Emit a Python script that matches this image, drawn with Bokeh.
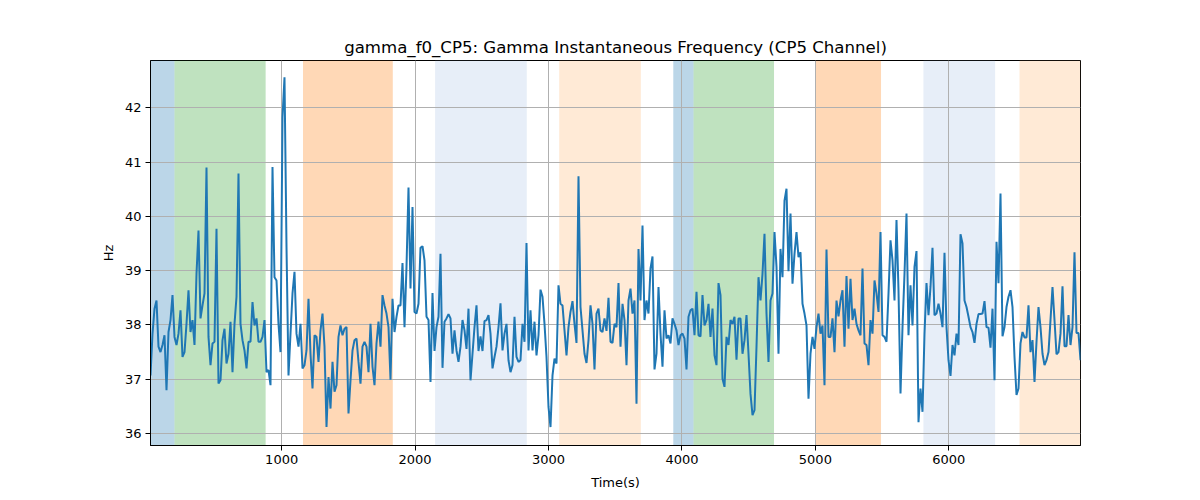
import numpy as np
from bokeh.plotting import figure
from bokeh.models import Range1d, BoxAnnotation, FixedTicker
from bokeh.embed import file_html
from bokeh.resources import INLINE

# instantaneous frequency, segment by segment
hz_a = [37.07, 37.84, 38.30, 38.45, 37.60, 37.50, 37.63, 37.81, 36.80, 37.87,
        38.09, 38.55, 37.78, 37.63, 37.84, 38.27, 37.41, 37.50, 38.02, 38.64,
        37.87, 38.09, 37.63, 38.94, 39.74, 38.12, 38.36, 38.58, 40.90, 37.78,
        37.26, 37.66, 37.69, 39.77, 36.92, 36.98, 37.72, 37.93, 37.29, 37.47,
        38.06, 37.13, 38.02, 38.52, 40.79, 38.02, 37.72, 37.53, 37.20, 37.69,
        37.69, 38.42, 37.99, 38.12, 37.69, 37.69, 37.78, 38.09]
hz_b = [37.13, 37.17, 36.89, 40.91, 38.88, 38.82, 38.02, 37.50, 41.83, 42.56,
        39.44, 37.07, 37.84, 38.58, 38.98, 37.84, 37.60, 38.02, 37.20, 37.26,
        37.53, 38.48, 37.47, 36.83, 37.81, 37.78, 37.32, 37.90, 38.21, 37.60,
        36.12, 37.04, 36.46, 37.32, 36.77, 36.89, 37.78, 37.99, 37.81, 37.93,
        37.96, 36.37, 36.98, 37.53, 37.72, 37.75, 37.32, 36.92, 37.60, 37.69,
        37.60, 37.13, 38.02, 37.23, 36.89, 37.66, 38.06, 37.60]
hz_c = [38.55, 38.36, 38.21, 37.96, 36.99, 38.48, 37.87, 38.15, 38.36, 38.36,
        39.14, 37.96, 39.07, 40.53, 38.67, 40.17, 38.24, 38.21, 38.39, 39.42,
        39.45, 39.19, 38.15, 38.09, 36.95, 38.59, 37.52, 37.96, 38.15, 39.31,
        37.21, 38.06, 38.12, 38.20, 38.12, 37.47, 37.90, 37.53, 37.32, 37.60,
        38.09, 37.90, 37.56, 38.30, 36.98, 37.47, 37.96, 38.36, 37.52, 37.79,
        37.52, 38.07, 38.09, 38.18, 37.84, 37.20, 37.41, 37.60, 37.96]
hz_d = [38.40, 37.53, 37.84, 38.02, 37.35, 37.13, 37.26, 38.15, 37.41, 37.32,
        37.35, 38.02, 37.69, 39.51, 37.53, 38.27, 37.53, 38.06, 37.44, 37.81,
        38.65, 38.52, 38.02, 37.41, 36.49, 36.12, 37.07, 37.38, 37.29, 38.73,
        38.39, 38.36, 37.90, 37.44, 37.96, 38.24, 38.44, 38.02, 37.67, 40.74,
        38.33, 37.90, 37.47, 37.30, 37.72, 38.36, 38.02, 37.18, 38.21, 38.30,
        37.90, 37.87, 38.12, 37.89, 38.50, 37.69, 37.67, 38.02]
hz_e = [37.96, 38.77, 37.60, 38.39, 38.09, 37.26, 38.45, 38.67, 38.21, 38.45,
        36.55, 39.40, 38.45, 39.83, 38.09, 38.45, 38.21, 39.04, 39.26, 37.18,
        37.47, 38.70, 37.84, 37.23, 38.27, 37.75, 37.81, 37.66, 38.12, 38.02,
        37.90, 37.63, 37.81, 37.84, 37.75, 37.18, 38.15, 38.27, 38.30, 37.81,
        38.61, 37.81, 37.79, 38.55, 37.99, 38.09, 38.39, 37.78, 38.30, 37.44,
        37.26, 38.77, 38.55, 37.01, 36.86, 37.78, 37.63, 38.09, 38.02]
hz_f = [38.15, 37.36, 38.12, 38.12, 37.47, 37.72, 38.18, 37.47, 36.73, 36.34,
        36.43, 37.60, 38.88, 38.45, 38.94, 39.68, 38.21, 37.32, 38.45, 38.58,
        39.71, 39.07, 37.47, 39.40, 38.88, 40.29, 40.51, 38.99, 40.05, 38.76,
        39.31, 39.71, 39.25, 39.34, 38.39, 38.21, 37.99, 36.64, 37.47, 37.78,
        37.56, 37.96, 38.21, 37.84, 37.99, 36.89, 39.39, 37.78, 37.78, 38.12,
        37.50, 38.45, 38.16, 38.45, 38.64, 37.60, 38.90, 37.93]
hz_g = [38.85, 38.09, 38.30, 38.02, 37.90, 37.81, 39.04, 37.66, 37.63, 37.26,
        38.09, 37.84, 38.82, 38.58, 38.24, 39.71, 37.81, 37.78, 37.69, 38.58,
        39.56, 39.19, 38.45, 39.93, 38.64, 36.74, 37.96, 38.94, 40.05, 37.81,
        38.73, 37.99, 39.07, 39.36, 36.21, 36.83, 36.40, 37.84, 38.77, 38.18,
        38.70, 39.42, 38.18, 38.21, 38.39, 38.21, 37.96, 39.33, 37.96, 37.35,
        37.06, 37.63, 37.44, 37.84, 37.63, 39.67, 39.50, 38.45, 38.33]
hz_h = [38.15, 37.96, 37.87, 37.67, 38.02, 38.20, 38.20, 38.21, 38.44, 37.96,
        37.95, 37.58, 38.30, 36.98, 39.53, 38.77, 40.42, 37.79, 37.96, 38.33,
        38.52, 38.64, 38.33, 37.41, 36.71, 36.83, 37.66, 37.87, 37.77, 37.77,
        38.36, 37.50, 37.72, 36.95, 37.69, 38.33, 37.96, 37.47, 37.26, 37.35,
        37.50, 38.09, 38.70, 38.09, 37.46, 37.50, 37.84, 38.71, 37.61, 37.61,
        38.18, 37.63, 37.96, 39.34, 37.85, 37.85, 37.35]

hz = hz_a + hz_b + hz_c + hz_d + hz_e + hz_f + hz_g + hz_h
t_start, t_end = 17, 6987
t = np.linspace(t_start, t_end, len(hz))

# shaded segments
span_start = [17, 197, 1160, 2150, 3080, 3935, 4087, 5000, 5810, 6530]
span_end = [197, 880, 1833, 2837, 3692, 4087, 4690, 5492, 6347, 6987]
span_color = ["#1f77b4", "#2ca02c", "#ff7f0e", "#aec7e8", "#ffbb78",
              "#1f77b4", "#2ca02c", "#ff7f0e", "#aec7e8", "#ffbb78"]

x_ticks = [1000, 2000, 3000, 4000, 5000, 6000]
y_ticks = [36, 37, 38, 39, 40, 41, 42]

font = "DejaVu Sans"

p = figure(width=1200, height=500, output_backend="svg", toolbar_location=None,
           title="gamma_f0_CP5: Gamma Instantaneous Frequency (CP5 Channel)",
           x_range=Range1d(t_start, t_end), y_range=Range1d(35.78, 42.87),
           min_border_left=150, min_border_right=120,
           min_border_top=60, min_border_bottom=55)

for s, e, c in zip(span_start, span_end, span_color):
    p.add_layout(BoxAnnotation(left=s, right=e, fill_color=c, fill_alpha=0.3,
                               line_color=None, level="image"))

p.line(t, hz, line_color="#1f77b4", line_width=2)

p.title.align = "center"
p.title.text_font = font
p.title.text_font_size = "16.6px"
p.title.text_font_style = "normal"
p.title.text_color = "black"
p.title.standoff = 8

p.xaxis.ticker = FixedTicker(ticks=x_ticks)
p.yaxis.ticker = FixedTicker(ticks=y_ticks)
p.xaxis.axis_label = "Time(s)"
p.yaxis.axis_label = "Hz"

for ax in [p.xaxis[0], p.yaxis[0]]:
    ax.axis_label_text_font = font
    ax.axis_label_text_font_size = "13px"
    ax.axis_label_text_font_style = "normal"
    ax.axis_label_text_color = "black"
    ax.major_label_text_font = font
    ax.major_label_text_font_size = "13px"
    ax.major_label_text_color = "black"
    ax.axis_line_color = "black"
    ax.major_tick_line_color = "black"
    ax.major_tick_out = 5
    ax.major_tick_in = 0
    ax.minor_tick_line_color = None
    ax.major_label_standoff = 4
p.xaxis.axis_label_standoff = 8
p.yaxis.axis_label_standoff = 6

p.grid.grid_line_color = "#b0b0b0"
p.grid.grid_line_width = 1
p.outline_line_color = "black"
p.outline_line_width = 1
p.outline_line_alpha = 1

open("out.html", "w").write(file_html(p, INLINE))
